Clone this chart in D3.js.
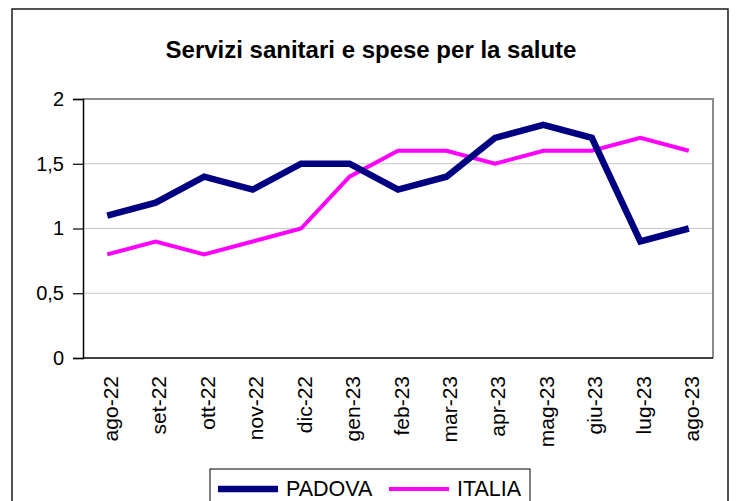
<!DOCTYPE html>
<html lang="it">
<head>
<meta charset="utf-8">
<title>Servizi sanitari e spese per la salute</title>
<style>
  body { margin: 0; background: #fff; }
  svg { display: block; font-family: "Liberation Sans", Arial, sans-serif; }
</style>
</head>
<body>
<div id="chart"></div>
<script src="https://cdn.jsdelivr.net/npm/d3@7"></script>
<script>
const months = ["ago-22", "set-22", "ott-22", "nov-22", "dic-22", "gen-23", "feb-23",
                "mar-23", "apr-23", "mag-23", "giu-23", "lug-23", "ago-23"];
const padova = [1.1, 1.2, 1.4, 1.3, 1.5, 1.5, 1.3, 1.4, 1.7, 1.8, 1.7, 0.9, 1.0];
const italia = [0.8, 0.9, 0.8, 0.9, 1.0, 1.4, 1.6, 1.6, 1.5, 1.6, 1.6, 1.7, 1.6];
const yTicks = [0, 0.5, 1, 1.5, 2];
const seriesNames = ["PADOVA", "ITALIA"];

const width = 737, height = 501;
const plot = {left: 83, right: 713, top: 99, bottom: 358};

const svg = d3.select("#chart").append("svg")
    .attr("width", width)
    .attr("height", height);

// outer chart frame (bottom edge falls outside the picture)
svg.append("rect")
    .attr("x", 12).attr("y", 9)
    .attr("width", 716).attr("height", 520)
    .attr("fill", "#fff")
    .attr("stroke", "#1a1a1a")
    .attr("stroke-width", 1.5);

svg.append("text")
    .attr("x", 371).attr("y", 58)
    .attr("text-anchor", "middle")
    .attr("font-size", 24)
    .attr("font-weight", "bold")
    .text("Servizi sanitari e spese per la salute");

const x = d3.scaleBand()
    .domain(months)
    .range([plot.left, plot.right]);
const y = d3.scaleLinear()
    .domain([0, 2])
    .range([plot.bottom, plot.top]);
const cx = d => x(d) + x.bandwidth() / 2;

// gridlines
svg.append("g")
  .selectAll("line")
  .data(yTicks.filter(v => v > 0 && v < 2))
  .join("line")
    .attr("x1", plot.left).attr("x2", plot.right)
    .attr("y1", d => y(d)).attr("y2", d => y(d))
    .attr("stroke", "#c8c8c8")
    .attr("stroke-width", 1);

// top / right frame in gray
svg.append("path")
    .attr("d", `M${plot.left},${y(2)}H${plot.right}V${plot.bottom}`)
    .attr("fill", "none")
    .attr("stroke", "#8c8c8c")
    .attr("stroke-width", 2);

// y axis
const yAxis = svg.append("g")
    .attr("transform", `translate(${plot.left},0)`)
    .call(d3.axisLeft(y)
        .tickValues(yTicks)
        .tickSize(10)
        .tickPadding(9)
        .tickFormat(d => String(d).replace(".", ",")));
yAxis.select(".domain").attr("stroke", "#000").attr("stroke-width", 1.5);
yAxis.selectAll(".tick line").attr("stroke", "#000").attr("stroke-width", 1.2);
yAxis.selectAll(".tick text")
    .attr("font-size", 20)
    .attr("font-family", "'Liberation Sans', Arial, sans-serif")
    .attr("fill", "#000");

// x axis line
svg.append("line")
    .attr("x1", plot.left).attr("x2", plot.right)
    .attr("y1", plot.bottom).attr("y2", plot.bottom)
    .attr("stroke", "#000")
    .attr("stroke-width", 1.5);

// x labels, rotated
svg.append("g")
  .selectAll("text")
  .data(months)
  .join("text")
    .attr("transform", d => `translate(${cx(d)},376) rotate(-90)`)
    .attr("text-anchor", "end")
    .attr("dy", "0.5em")
    .attr("font-size", 21)
    .attr("fill", "#000")
    .text(d => d);

const line = d3.line()
    .x((d, i) => cx(months[i]))
    .y(d => y(d));

svg.append("path")
    .datum(italia)
    .attr("d", line)
    .attr("fill", "none")
    .attr("stroke", "#ff00ff")
    .attr("stroke-width", 4);

svg.append("path")
    .datum(padova)
    .attr("d", line)
    .attr("fill", "none")
    .attr("stroke", "#000080")
    .attr("stroke-width", 6.5);

// legend
const legend = svg.append("g");
legend.append("rect")
    .attr("x", 210).attr("y", 469)
    .attr("width", 320).attr("height", 60)
    .attr("fill", "#fff")
    .attr("stroke", "#000")
    .attr("stroke-width", 1);

const legendItems = [
  {name: seriesNames[0], color: "#000080", w: 6.5, x0: 218},
  {name: seriesNames[1], color: "#ff00ff", w: 4, x0: 389}
];
legendItems.forEach(it => {
  legend.append("line")
      .attr("x1", it.x0).attr("x2", it.x0 + 60)
      .attr("y1", 489).attr("y2", 489)
      .attr("stroke", it.color)
      .attr("stroke-width", it.w);
  legend.append("text")
      .attr("x", it.x0 + 68).attr("y", 496)
      .attr("font-size", 21.5)
      .attr("fill", "#000")
      .text(it.name);
});
</script>
</body>
</html>
